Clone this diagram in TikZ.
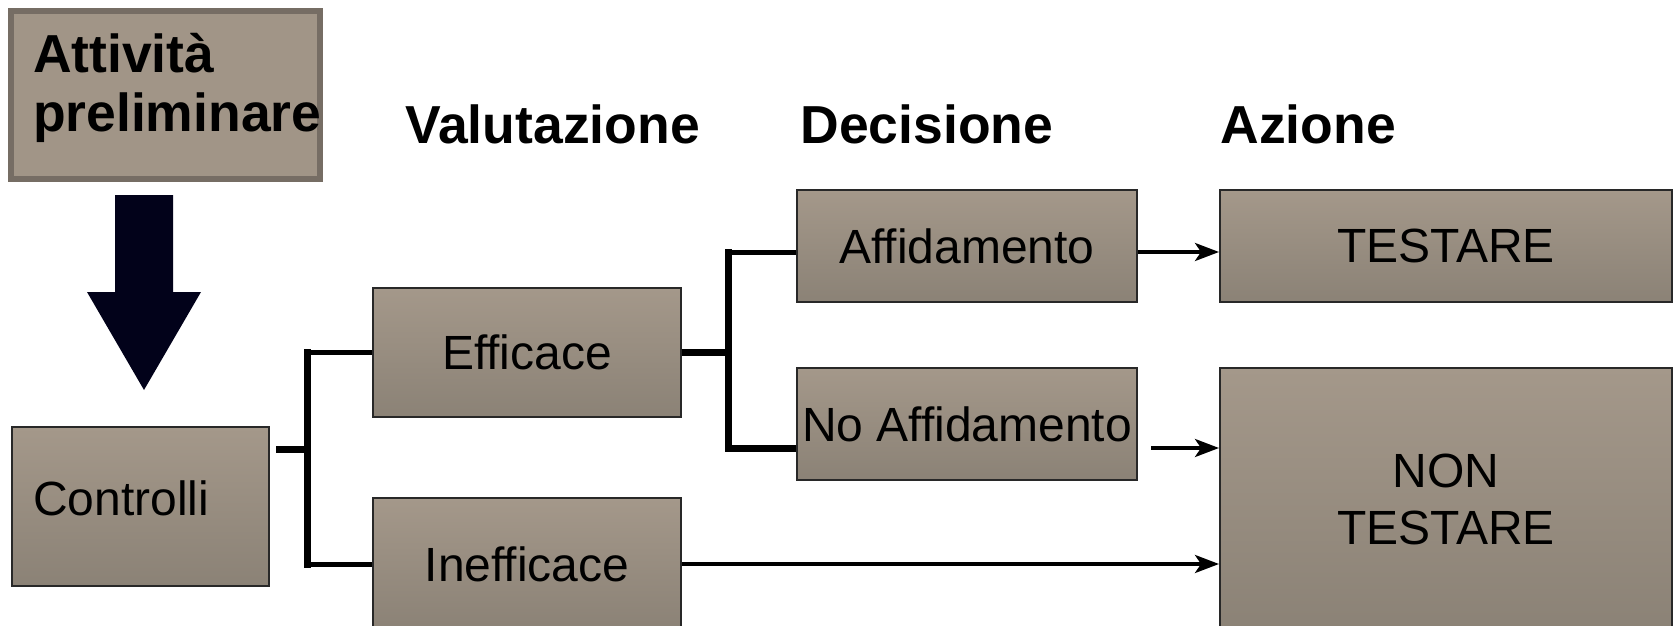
\documentclass[tikz,border=0pt]{standalone}
\usepackage{fontspec}
\setmainfont{Liberation Sans}[Ligatures=CommonOff]
\usetikzlibrary{positioning, arrows.meta}
\definecolor{boxtop}{RGB}{164,152,138}
\definecolor{boxbot}{RGB}{139,130,118}
\definecolor{boxline}{RGB}{40,40,40}
\definecolor{prefill}{RGB}{161,149,135}
\definecolor{preline}{RGB}{118,109,100}
\definecolor{navyblk}{RGB}{2,2,26}

\begin{document}
\begin{tikzpicture}[x=0.5pt, y=-0.5pt,
		box/.style={draw=boxline, line width=1pt, top color=boxtop, bottom color=boxbot, inner sep=0pt, font=\fontsize{24pt}{28.5pt}\selectfont},
		head/.style={anchor=base west, inner sep=0pt, font=\fontsize{26.75pt}{29.5pt}\selectfont\bfseries},
		tree/.style={line width=2.5pt},
		trunk/.style={line width=3.5pt, line cap=rect},
		arr/.style={line width=1.75pt, -{Stealth[length=12pt, width=9pt, inset=3pt]}}]
	\useasboundingbox (0,0) rectangle (1676,626);
	\draw
	node[draw=preline, line width=3pt, fill=prefill, minimum width=154.5pt, minimum height=84pt, text width=132.5pt, text depth=42pt, inner xsep=11pt, align=left, font=\fontsize{26.75pt}{29.5pt}\selectfont\bfseries] (pre) at (165.5,95) {Attività\\\mbox{preliminare}}
	node[box, minimum width=128.5pt, minimum height=79.5pt, text width=107.5pt, text depth=8pt, inner xsep=10.5pt, align=left] (ctrl) at (140.5,506.5) {Controlli}
	node[box, minimum width=154pt, minimum height=64.5pt] (eff)   at (527,352.5) {Efficace}
	node[box, minimum width=154pt, minimum height=66pt]   (ineff) at (527,564)   {Inefficace}
	node[box, minimum width=170pt, minimum height=56pt]   (aff)   at (967,246)   {Affidamento}
	node[box, minimum width=170pt, minimum height=56pt]   (noaff) at (967,424)   {No Affidamento}
	node[box, minimum width=226pt, minimum height=56pt]   (test)  at (1446,246)  {TESTARE}
	node[box, minimum width=226pt, minimum height=131pt, align=center] (nontest) at (1446,499) {NON\\TESTARE};
	\node[head] (val) at (405,144)  {Valutazione};
	\node[head] (dec) at (800,144)  {Decisione};
	\node[head] (azi) at (1220,144) {Azione};
	% big arrow down to the controls
	\fill[navyblk] (115,195) -- (173,195) -- (173,292) -- (201,292) -- (144,390) -- (87,292) -- (115,292) -- cycle;
	% tree
	\coordinate (j1) at (307,449);
	\coordinate (j2) at (728,352.5);
	\coordinate (affin) at ([yshift=-3pt]aff.west);
	\coordinate (noaffin) at ([yshift=-12pt]noaff.west);
	\coordinate (noaffout) at ([xshift=6.5pt, yshift=-12pt]noaff.east);
	\draw[trunk] ([xshift=4.5pt]ctrl.east |- j1) -- (j1);
	\draw[trunk] (j1 |- eff.west) -- (j1 |- ineff.west);
	\draw[tree] (eff.west) -- (j1 |- eff.west);
	\draw[tree] (ineff.west) -- (j1 |- ineff.west);
	\draw[trunk, line cap=butt] (eff.east) -- (j2);
	\draw[trunk] (j2 |- affin) -- (j2 |- noaffin);
	\draw[tree] (affin) -- (j2 |- affin);
	\draw[trunk, line cap=butt] (noaffin) -- (j2 |- noaffin);
	% arrows
	\draw[arr] (affin -| aff.east) -- (affin -| test.west);
	\draw[arr] (noaffout) -- (noaffout -| nontest.west);
	\draw[arr] (ineff.east) -- (ineff.east -| nontest.west);
\end{tikzpicture}
\end{document}
